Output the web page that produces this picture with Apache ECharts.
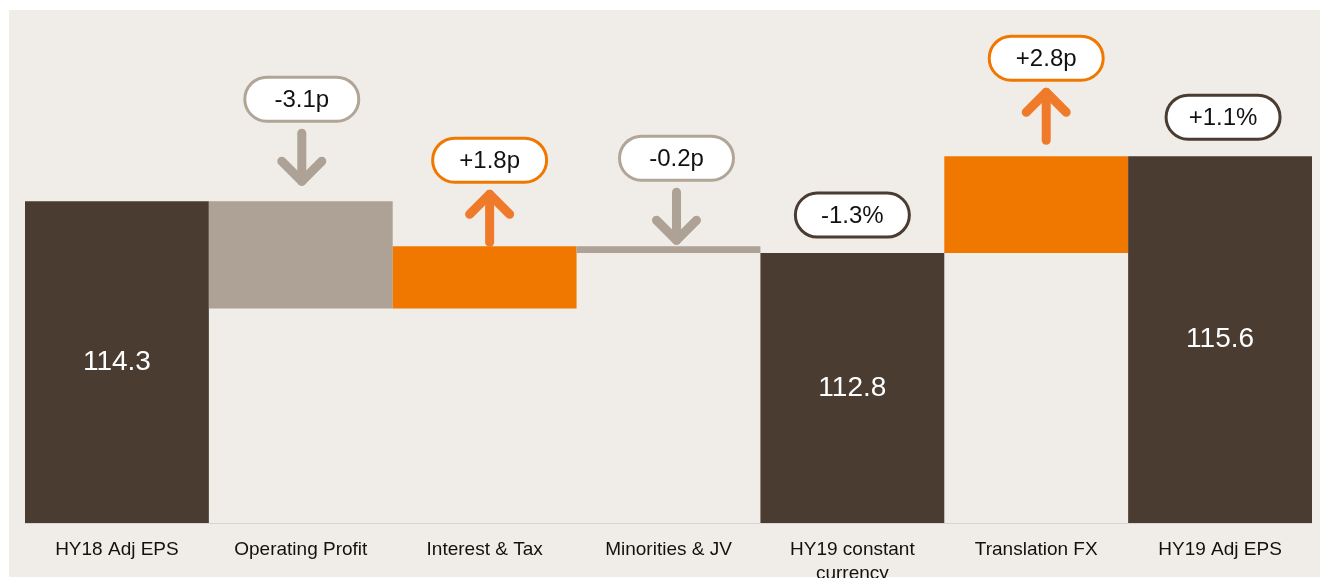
<!DOCTYPE html>
<html>
<head>
<meta charset="utf-8">
<title>EPS bridge</title>
<script src="https://cdn.jsdelivr.net/npm/echarts@6/dist/echarts.min.js"></script>
<style>
  html, body { margin: 0; padding: 0; background: #ffffff; }
  #panel { position: absolute; left: 9px; top: 10px; width: 1311px; height: 567px; background: #f0ede8; }
  #chart { position: absolute; left: 0; top: 0; width: 1320px; height: 578px; }
</style>
</head>
<body>
<div id="panel"></div>
<div id="chart"></div>
<script>
// data
const categories = ['HY18 Adj EPS', 'Operating Profit', 'Interest & Tax', 'Minorities & JV',
  'HY19 constant\ncurrency', 'Translation FX', 'HY19 Adj EPS'];
const epsMoves = [114.3, -3.1, 1.8, -0.2, 112.8, 2.8, 115.6];
const isTotal = [true, false, false, false, true, false, true];
const badgeText = [null, '-3.1p', '+1.8p', '-0.2p', '-1.3%', '+2.8p', '+1.1%'];

// layout tweaks for the badges (pixels above the bar top / sideways shift)
const badgeLift = [0, 80, 64, 66, 16, 76, 17];
const badgeShift = [0, 1, 5, 8, 0, 10, 3];

const DARK = '#4a3c31';
const GREY = '#ada295';
const ORANGE = '#f07800';
const FONT = '"Liberation Sans", Arial, sans-serif';

// build the floating bars
let level = 0;
const baseVals = [], shownVals = [], tops = [];
epsMoves.forEach((v, i) => {
  if (isTotal[i]) {
    baseVals.push(0);
    shownVals.push(v);
    tops.push(v);
    level = v;
  } else {
    const next = +(level + v).toFixed(1);
    baseVals.push(Math.min(level, next));
    shownVals.push(Math.abs(v));
    tops.push(Math.max(level, next));
    level = next;
  }
});

function colorOf(i) {
  if (isTotal[i]) return DARK;
  return epsMoves[i] < 0 ? GREY : ORANGE;
}

const chart = echarts.init(document.getElementById('chart'), null, { renderer: 'canvas' });

chart.setOption({
  animation: false,
  backgroundColor: 'transparent',
  grid: { left: 25, right: 8, top: 4, bottom: 55, outerBoundsMode: 'none', containLabel: false },
  xAxis: {
    type: 'category',
    data: categories,
    axisLine: { lineStyle: { color: '#d8d5d1', width: 1 } },
    axisTick: { length: 7, lineStyle: { color: '#d8d5d1' } },
    axisLabel: {
      interval: 0,
      color: '#111111',
      fontSize: 19,
      fontFamily: FONT,
      margin: 15,
      lineHeight: 24
    }
  },
  yAxis: {
    type: 'value',
    min: 105,
    max: 120,
    show: false,
    splitLine: { show: false }
  },
  series: [
    {
      type: 'bar',
      stack: 'eps',
      barCategoryGap: '0%',
      itemStyle: { color: 'transparent' },
      data: baseVals,
      silent: true
    },
    {
      type: 'bar',
      stack: 'eps',
      barCategoryGap: '0%',
      data: shownVals.map((v, i) => ({ value: v, itemStyle: { color: colorOf(i) } })),
      label: {
        show: true,
        position: 'inside',
        color: '#ffffff',
        fontSize: 28,
        fontFamily: FONT,
        formatter: p => isTotal[p.dataIndex] ? epsMoves[p.dataIndex].toFixed(1) : ''
      }
    },
    {
      type: 'custom',
      z: 10,
      data: categories.map((c, i) => [i, tops[i]]),
      renderItem: function (params, api) {
        const i = api.value(0);
        if (!badgeText[i]) return;
        const pt = api.coord([i, api.value(1)]);
        const cx = pt[0] + badgeShift[i];
        const pillBottom = pt[1] - badgeLift[i];
        const pillH = 44, pillW = 114;
        const border = isTotal[i] ? DARK : (epsMoves[i] < 0 ? '#b0a597' : ORANGE);
        const children = [{
          type: 'rect',
          shape: { x: cx - pillW / 2, y: pillBottom - pillH, width: pillW, height: pillH, r: pillH / 2 },
          style: { fill: '#ffffff', stroke: border, lineWidth: 3 }
        }, {
          type: 'text',
          style: {
            text: badgeText[i], x: cx, y: pillBottom - pillH / 2 + 1,
            align: 'center', verticalAlign: 'middle',
            fontSize: 24, fontFamily: FONT, fill: '#111111'
          }
        }];
        if (!isTotal[i]) {
          const y0 = pillBottom + 12, y1 = pillBottom + 60;
          const arrowColor = epsMoves[i] < 0 ? GREY : '#ee7a2a';
          const tip = epsMoves[i] < 0 ? y1 : y0;
          const back = epsMoves[i] < 0 ? tip - 20 : tip + 20;
          const lineStyle = { stroke: arrowColor, lineWidth: 9, lineCap: 'round', lineJoin: 'round', fill: null };
          children.push({
            type: 'line',
            shape: { x1: cx, y1: y0, x2: cx, y2: y1 },
            style: lineStyle
          }, {
            type: 'polyline',
            shape: { points: [[cx - 20, back], [cx, tip], [cx + 20, back]] },
            style: lineStyle
          });
        }
        return { type: 'group', children: children };
      }
    }
  ]
});
</script>
</body>
</html>
